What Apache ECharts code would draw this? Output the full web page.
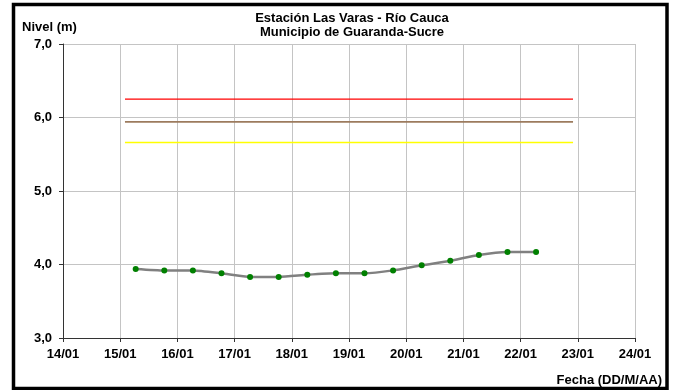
<!DOCTYPE html>
<html><head><meta charset="utf-8">
<script src="https://cdn.jsdelivr.net/npm/echarts@6/dist/echarts.min.js"></script>
<style>html,body{margin:0;padding:0;background:#fff}#c{width:673px;height:390px}</style>
</head><body><div id="c"></div>
<script>
const titleLines = ['Estación Las Varas - Río Cauca', 'Municipio de Guaranda-Sucre'];
const yAxisName = 'Nivel (m)';
const xAxisName = 'Fecha (DD/M/AA)';
const year = 2023;
const xStart = '14/01 00:00';
const xEnd = '24/01 00:00';
const yTicks = [3, 4, 5, 6, 7];
const obsTimes = ['15/01 06:30','15/01 18:30','16/01 06:30','16/01 18:30','17/01 06:30','17/01 18:30','18/01 06:30','18/01 18:30','19/01 06:30','19/01 18:30','20/01 06:30','20/01 18:30','21/01 06:30','21/01 18:30','22/01 06:30'];
const obsLevels = [3.94,3.92,3.92,3.88,3.83,3.83,3.86,3.88,3.88,3.92,3.99,4.05,4.13,4.17,4.17];
const thresholdSpan = ['15/01 02:00', '22/01 22:00'];
const redLevel = [6.25, 6.25];
const brownLevel = [5.94, 5.94];
const yellowLevel = [5.66, 5.66];

const DAY = 86400000;
function t(s){ const [d,h]=s.split(' '); const [dd,mm]=d.split('/').map(Number); const [hh,mi]=h.split(':').map(Number); return Date.UTC(year, mm-1, dd, hh, mi); }
const pad = n => String(n).padStart(2,'0');
const font = '"Liberation Sans", Arial, sans-serif';

const chart = echarts.init(document.getElementById('c'), null, {renderer:'canvas'});
const thrX = thresholdSpan.map(t);
chart.setOption({
  animation:false,
  backgroundColor:'#fff',
  grid:{left:63, right:38, top:44, bottom:52},
  xAxis:{
    type:'value', min:t(xStart), max:t(xEnd), interval:DAY,
    axisLine:{show:true, onZero:false, lineStyle:{color:'#333', width:1}},
    axisTick:{show:true, length:4, lineStyle:{color:'#333'}},
    axisLabel:{color:'#000', fontFamily:font, fontWeight:'bold', fontSize:13, margin:10,
      formatter:v=>{const d=new Date(v); return pad(d.getUTCDate())+'/'+pad(d.getUTCMonth()+1);}},
    splitLine:{show:true, lineStyle:{color:'#c4c4c4', width:1}}
  },
  yAxis:{
    type:'value', min:yTicks[0], max:yTicks[yTicks.length-1], interval:1,
    axisLine:{show:true, lineStyle:{color:'#333', width:1}},
    axisTick:{show:true, length:4, lineStyle:{color:'#333'}},
    axisLabel:{color:'#000', fontFamily:font, fontWeight:'bold', fontSize:13, margin:11,
      formatter:v=>v.toFixed(1).replace('.',',')},
    splitLine:{show:true, lineStyle:{color:'#c4c4c4', width:1}}
  },
  series:[
    {type:'line', data:thrX.map((x,i)=>[x,redLevel[i]]), symbol:'none', lineStyle:{color:'#ff0000', width:1.3}, silent:true},
    {type:'line', data:thrX.map((x,i)=>[x,brownLevel[i]]), symbol:'none', lineStyle:{color:'#9c7b5e', width:1.6}, silent:true},
    {type:'line', data:thrX.map((x,i)=>[x,yellowLevel[i]]), symbol:'none', lineStyle:{color:'#ffff00', width:1.3}, silent:true},
    {type:'line', data:obsTimes.map((s,i)=>[t(s), obsLevels[i]]), smooth:0.2,
      lineStyle:{color:'#808080', width:2.5},
      symbol:'circle', symbolSize:6, itemStyle:{color:'#008000', borderWidth:0}}
  ],
  graphic:[
    {type:'rect', shape:{x:13.5, y:4.5, width:653.5, height:384}, style:{fill:'none', stroke:'#000', lineWidth:3.5}, silent:true},
    {type:'text', x:352, y:18, style:{text:titleLines[0], font:'bold 13px '+font, fill:'#000', textAlign:'center', textVerticalAlign:'middle'}},
    {type:'text', x:352, y:32, style:{text:titleLines[1], font:'bold 13px '+font, fill:'#000', textAlign:'center', textVerticalAlign:'middle'}},
    {type:'text', x:22, y:27, style:{text:yAxisName, font:'bold 13px '+font, fill:'#000', textAlign:'left', textVerticalAlign:'middle'}},
    {type:'text', x:662, y:380, style:{text:xAxisName, font:'bold 13px '+font, fill:'#000', textAlign:'right', textVerticalAlign:'middle'}}
  ]
});
</script></body></html>
